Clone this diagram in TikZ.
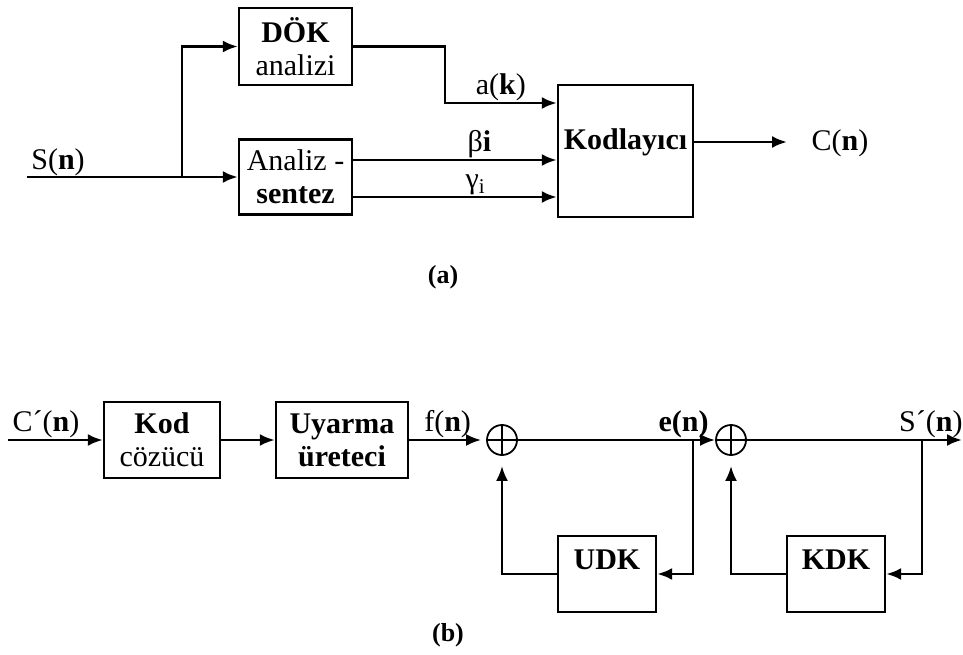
\documentclass[tikz,border=0pt]{standalone}
\usepackage{fontspec}
\setmainfont{Liberation Serif}
\usetikzlibrary{arrows.meta}
\tikzset{
  blk/.style={draw,line width=2.4pt,inner sep=0pt,align=center,font=\fontsize{30}{33}\selectfont},
  sumpt/.style={circle,draw,line width=1.8pt,minimum size=30pt,inner sep=0pt,
    path picture={\draw[line width=1.5pt] (path picture bounding box.north)--(path picture bounding box.south)
      (path picture bounding box.west)--(path picture bounding box.east);}},
  wire/.style={line width=2.6pt},
  sig/.style={wire,-{Latex[length=15pt,width=12pt]}},
  lbl/.style={inner sep=1pt,font=\fontsize{30}{32}\selectfont},
  subcap/.style={font=\fontsize{26}{28}\selectfont\bfseries}
}
\begin{document}
\begin{tikzpicture}[x=1pt,y=-1pt]
  \fill[white] (0,0) rectangle (963,655);
  \useasboundingbox (0,0) rectangle (963,655);
  % (a) kodlayici
  \node[blk,minimum width=113pt,minimum height=77pt] (dok) at (295.5,46.5) {\textbf{DÖK}\\analizi};
  \node[blk,minimum width=113pt,minimum height=75pt] (anl) at (295.5,177) {Analiz -\\\textbf{sentez}};
  \node[blk,minimum width=135pt,minimum height=132pt,text depth=24pt] (kdl) at (625.5,151) {\textbf{Kodlayıcı}};
  \coordinate (sin) at (27,177);
  \coordinate (split) at (182,177);
  \coordinate (bend) at (445,103);
  \coordinate (cend) at (787,142);
  \node[lbl,anchor=south] (sn) at (58,177) {S(\textbf{n})};
  \node[lbl] (cn) at (840,143) {C(\textbf{n})};

  \draw[wire] (sin) -- (split);
  \draw[sig] (split) -- (anl.west);
  \draw[sig] (split) |- (dok.west);
  \draw[sig] (dok.east) -| (bend) -- (bend -| kdl.west) node[lbl,midway,above] {a(\textbf{k})};
  \draw[sig] ([yshift=17pt]anl.east) -- ([yshift=17pt]anl.east -| kdl.west) node[lbl,pos=.62,above] {β\textbf{i}};
  \draw[sig] ([yshift=-20pt]anl.east) -- ([yshift=-20pt]anl.east -| kdl.west) node[lbl,pos=.6,above] {γ\textsubscript{i}};
  \draw[sig] ([yshift=9pt]kdl.east) -- (cend);
  \node[subcap] (capa) at (443,277) {(a)};

  % (b) kod cozucu
  \node[blk,minimum width=116pt,minimum height=76pt] (coz) at (162,440) {\textbf{Kod}\\cözücü};
  \node[blk,minimum width=132pt,minimum height=76pt] (uya) at (342,440) {\textbf{Uyarma}\\\textbf{üreteci}};
  \node[sumpt] (s1) at (502,440) {};
  \node[sumpt] (s2) at (731,440) {};
  \node[blk,minimum width=98pt,minimum height=76pt,text depth=29pt] (udk) at (607,574) {\textbf{UDK}};
  \node[blk,minimum width=98pt,minimum height=76pt,text depth=29pt] (kdk) at (836,574) {\textbf{KDK}};
  \coordinate (cin) at (8,440);
  \coordinate (br1) at (693,440);
  \coordinate (br2) at (922,440);
  \coordinate (sout) at (962,440);

  \draw[sig] (cin) -- (coz.west) node[lbl,pos=.4,above] {C´(\textbf{n})};
  \draw[sig] (coz) -- (uya);
  \draw[sig,shorten >=5pt] (uya.east) -- (s1.west) node[lbl,midway,above] {f(\textbf{n})};
  \draw[sig] (s1.east) -- (s2.west) node[lbl,pos=.84,above] {\textbf{e(n)}};
  \draw[sig] (s2.east) -- (sout) node[lbl,pos=.855,above] {S´(\textbf{n})};
  \draw[sig] (br1) |- (udk.east);
  \draw[sig,shorten >=10pt] (udk.west) -| (s1.south);
  \draw[sig] (br2) |- (kdk.east);
  \draw[sig,shorten >=10pt] (kdk.west) -| (s2.south);
  \node[subcap] (capb) at (448,635) {(b)};
\end{tikzpicture}
\end{document}
